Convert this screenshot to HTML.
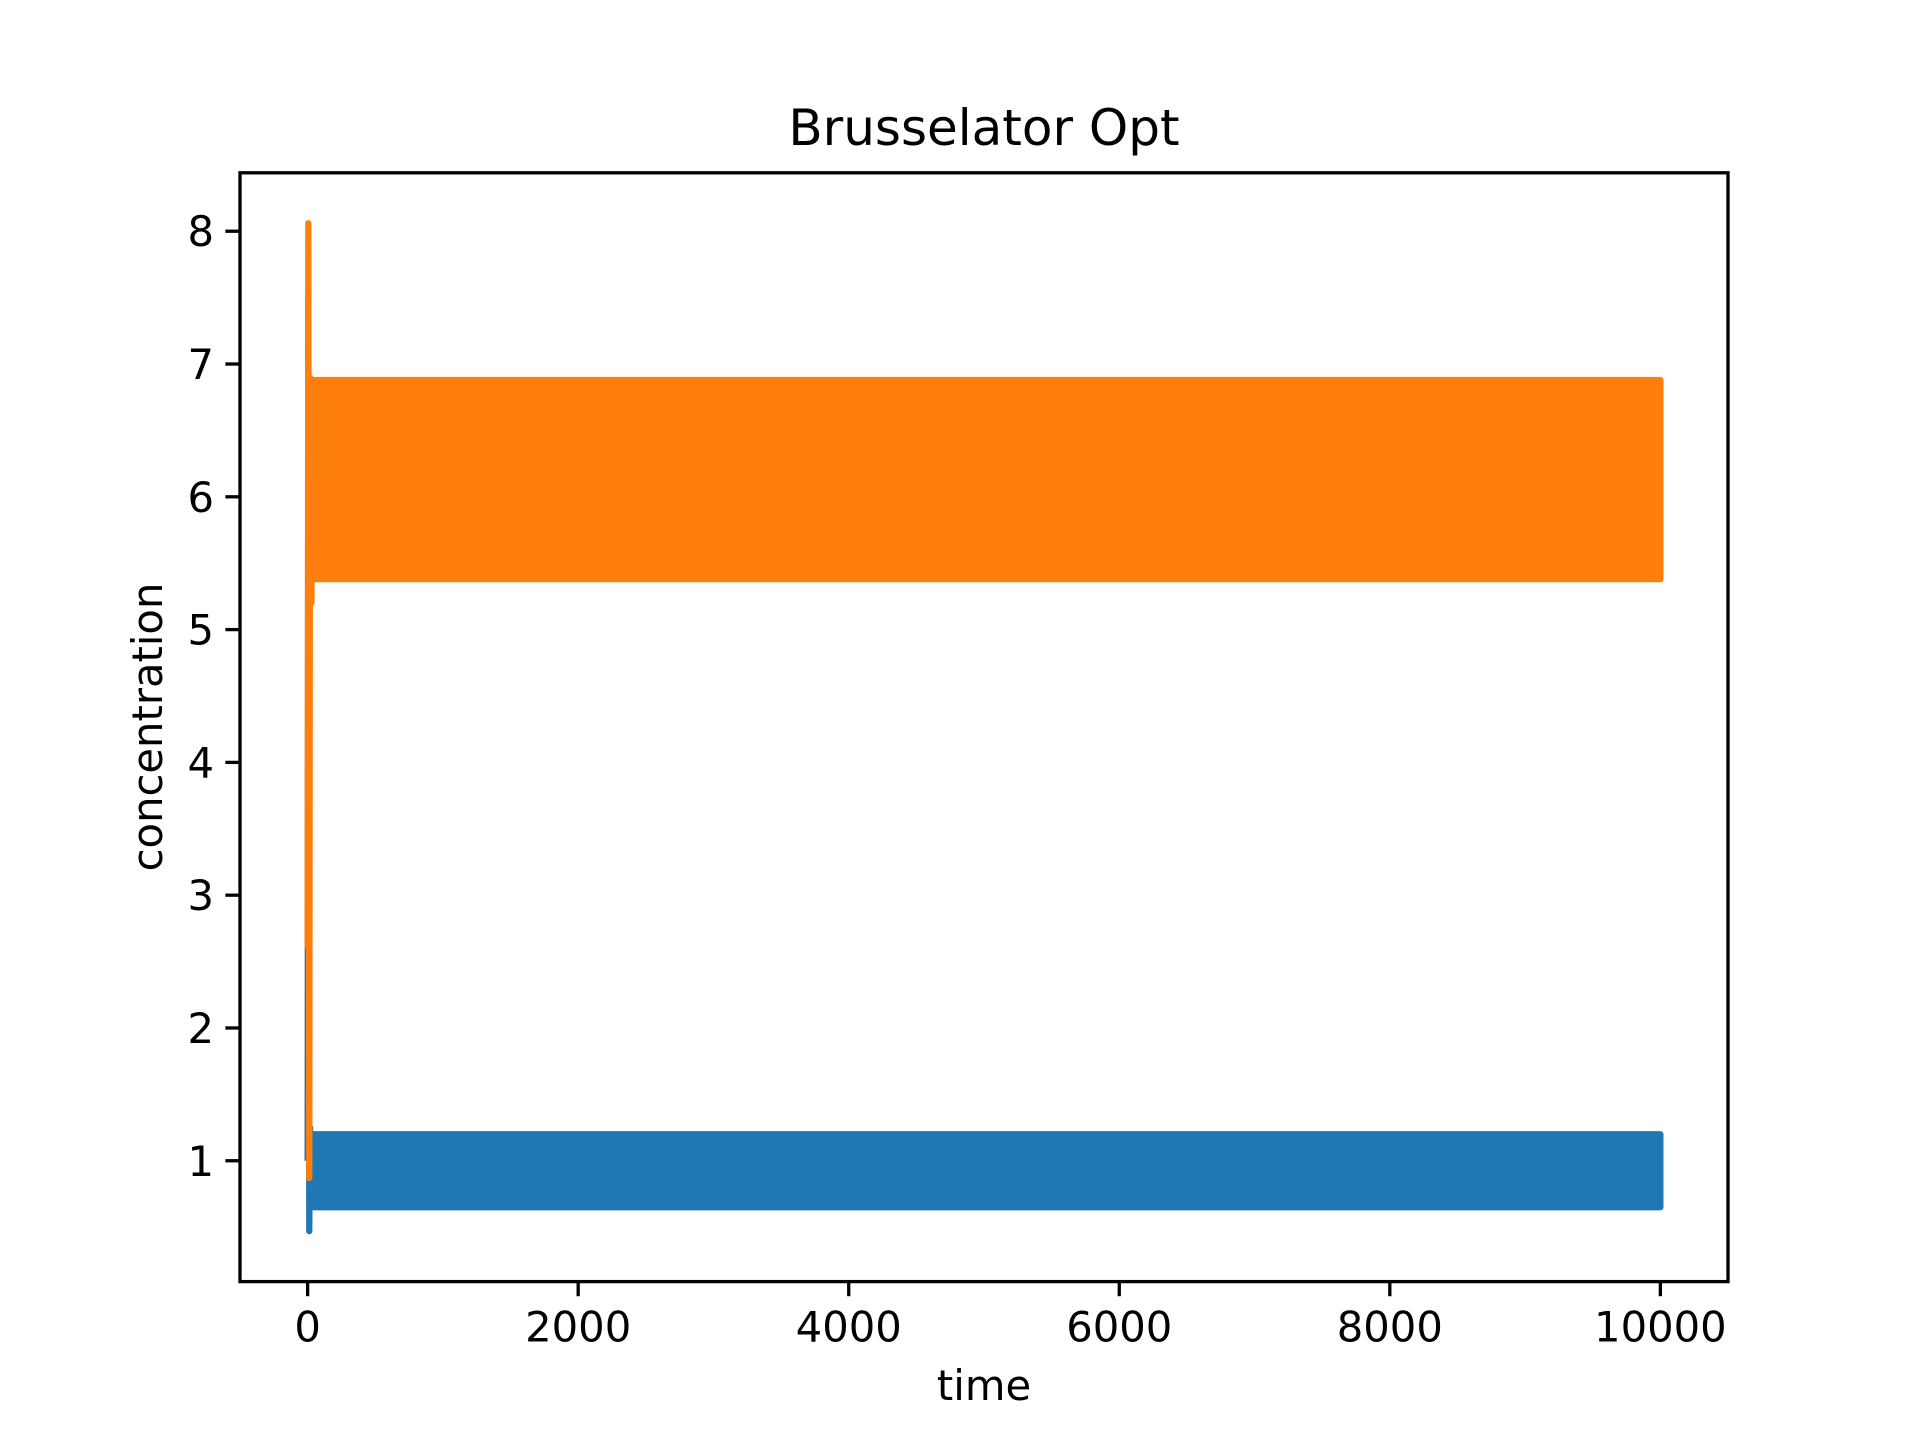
<!DOCTYPE html>
<html><head><meta charset="utf-8"><style>
html,body{margin:0;padding:0;background:#fff}
svg text{font-family:"DejaVu Sans","Liberation Sans",sans-serif;fill:#000}
</style></head><body>
<svg id="chart" width="1920" height="1440" viewBox="0 0 1920 1440" xmlns="http://www.w3.org/2000/svg">
<rect width="1920" height="1440" fill="#fff"/>
<g id="plot"></g>
<text x="984" y="145" font-size="50" text-anchor="middle">Brusselator Opt</text>
<text x="984" y="1400" font-size="41.7" text-anchor="middle">time</text>
<text x="162" y="727" font-size="41.7" text-anchor="middle" transform="rotate(-90 162 727)">concentration</text>
</svg>
<script>
const xTicks = [0, 2000, 4000, 6000, 8000, 10000];
const yTicks = [1, 2, 3, 4, 5, 6, 7, 8];
const seriesNames = ["x-concentration", "y-concentration"];
const seriesColors = ["#1f77b4", "#ff7f0e"];
// transient (time, value) pairs near t=0
const blueTransientT = [0, 5, 12, 18, 25, 35, 45];
const blueTransientV = [1.0, 7.5, 0.47, 1.25, 0.65, 1.2, 0.65];
const orangeTransientT = [0, 5, 12, 18, 28, 38, 50];
const orangeTransientV = [2.6, 8.06, 0.87, 6.9, 5.2, 6.88, 5.38];
// steady oscillation envelope: [start, end, low, high]
const blueBand = [45, 10000, 0.65, 1.2];
const orangeBand = [50, 10000, 5.38, 6.88];

const L=240,R=1728,T=172.8,B=1281.6;
const xMin=-500,xMax=10500,yMin=0.09,yMax=8.44;
const sx=v=>L+(v-xMin)/(xMax-xMin)*(R-L);
const sy=v=>B-(v-yMin)/(yMax-yMin)*(B-T);
const NS="http://www.w3.org/2000/svg";
const g=document.getElementById("plot");
function mk(tag,attrs,parent){const e=document.createElementNS(NS,tag);for(const k in attrs)e.setAttribute(k,attrs[k]);(parent||g).appendChild(e);return e;}

function drawSeries(i,band,tt,vv){
  const col=seriesColors[i];
  const r=mk("rect",{x:sx(band[0]),y:sy(band[3]),width:sx(band[1])-sx(band[0]),height:sy(band[2])-sy(band[3]),fill:col,stroke:col,"stroke-width":6.25,"stroke-linejoin":"round"});
  
  
  const pts=tt.map((t,k)=>sx(t)+","+sy(vv[k])).join(" ");
  const p=mk("polyline",{points:pts,fill:"none",stroke:col,"stroke-width":6.25,"stroke-linejoin":"round"});
  
  
}
drawSeries(0,blueBand,blueTransientT,blueTransientV);
drawSeries(1,orangeBand,orangeTransientT,orangeTransientV);

const frame=mk("rect",{x:L,y:T,width:R-L,height:B-T,fill:"none",stroke:"#000","stroke-width":3.3});



xTicks.forEach(v=>{
  const x=sx(v);
  const t=mk("line",{x1:x,x2:x,y1:B,y2:B+14.6,stroke:"#000","stroke-width":3.3});
  
  
  const l=mk("text",{x:x,y:B+60,"font-size":41.7,"text-anchor":"middle"});
  l.textContent=v;
  
  
});
yTicks.forEach(v=>{
  const y=sy(v);
  const t=mk("line",{x1:L-14.6,x2:L,y1:y,y2:y,stroke:"#000","stroke-width":3.3});
  
  
  const l=mk("text",{x:L-26,y:y+15,"font-size":41.7,"text-anchor":"end"});
  l.textContent=v;
  
  
});
</script>
</body></html>
